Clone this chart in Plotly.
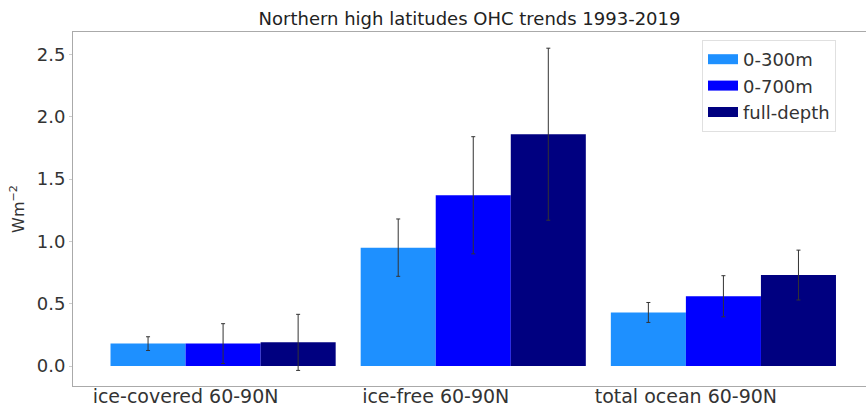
import plotly.graph_objects as go

categories = ["ice-covered 60-90N", "ice-free 60-90N", "total ocean 60-90N"]
series_names = ["0-300m", "0-700m", "full-depth"]
values_0_300 = [0.18, 0.95, 0.43]
values_0_700 = [0.18, 1.37, 0.56]
values_full = [0.19, 1.86, 0.73]
err_0_300 = [0.055, 0.23, 0.08]
err_0_700 = [0.16, 0.47, 0.165]
err_full = [0.225, 0.69, 0.2]
yticks = [0.0, 0.5, 1.0, 1.5, 2.0, 2.5]

colors = ["#1E90FF", "#0000FF", "#000080"]
width = 0.3
offsets = [-0.45, -0.15, 0.15]
idx = list(range(len(categories)))

fig = go.Figure()
for name, vals, errs, col, off in zip(series_names,
                                      [values_0_300, values_0_700, values_full],
                                      [err_0_300, err_0_700, err_full],
                                      colors, offsets):
    fig.add_trace(go.Bar(
        x=idx, y=vals, name=name, width=width, offset=off,
        marker=dict(color=col, line=dict(width=0)),
        error_y=dict(type="data", array=errs, visible=True,
                     color="#333333", thickness=1, width=2),
        showlegend=False,
    ))
# legend entries with wide rectangular swatches
for name, col in zip(series_names, colors):
    fig.add_trace(go.Scatter(
        x=[None], y=[None], mode="lines", name=name,
        line=dict(color=col, width=12), showlegend=True, hoverinfo="skip",
    ))

font_family = "DejaVu Sans"
tick_col = "#333333"
fig.update_layout(
    width=866, height=408,
    margin=dict(l=73, r=0, t=32, b=22, autoexpand=False),
    paper_bgcolor="white", plot_bgcolor="white",
    barmode="overlay",
    title=dict(text="Northern high latitudes OHC trends 1993-2019",
               x=(73 + 866) / 2 / 866, xanchor="center",
               y=1 - 19 / 408, yanchor="middle",
               font=dict(family=font_family, size=18, color="#222222")),
    font=dict(family=font_family, size=18, color=tick_col),
    showlegend=True,
    legend=dict(x=(702 - 73) / 793, xanchor="left",
                y=1 - (40 - 32) / 354, yanchor="top",
                bgcolor="white", bordercolor="#e0e0e0", borderwidth=1,
                font=dict(family=font_family, size=18, color=tick_col),
                tracegroupgap=0),
    xaxis=dict(range=[-0.6, 2.57], tickmode="array",
               tickvals=[i - 0.15 for i in idx], ticktext=categories,
               showline=True, linecolor="#aaaaaa", linewidth=1, mirror=True,
               ticks="", showgrid=False, zeroline=False, automargin=False,
               ticklabelstandoff=-7,
               tickfont=dict(family=font_family, size=19, color=tick_col)),
    yaxis=dict(range=[-0.16, 2.68], tickmode="array", tickvals=yticks,
               tickformat=".1f",
               showline=True, linecolor="#aaaaaa", linewidth=1,
               ticks="outside", ticklen=3, tickcolor="#cccccc",
               showgrid=False, zeroline=False, automargin=False,
               title=dict(text="Wm<sup>−2</sup>", standoff=8,
                          font=dict(family=font_family, size=16, color=tick_col)),
               tickfont=dict(family=font_family, size=18, color=tick_col)),
)

fig.write_html("out.html")
